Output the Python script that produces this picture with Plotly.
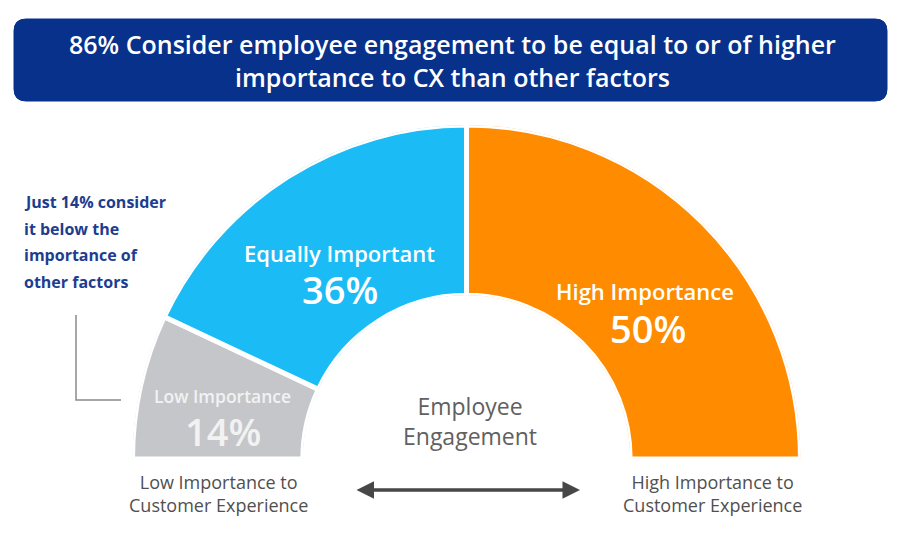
import numpy as np
import plotly.graph_objects as go

# data
segments = ["Low Importance", "Equally Important", "High Importance"]
shares = [14, 36, 50]
colors = ["#c5c6ca", "#1bbcf5", "#ff8c00"]
label_colors = ["#f2f2f2", "white", "white"]

W, H = 904, 534
FONT = "Open Sans"


def px(x):
    return x / W


def py(y):
    return 1 - y / H


# angular positions from the shares (half circle = 100%)
theta_width = [s * 1.8 for s in shares]
theta_mid = list(np.cumsum(theta_width) - np.array(theta_width) / 2)

fig = go.Figure(
    go.Barpolar(
        r=[1] * len(shares),
        theta=theta_mid,
        width=theta_width,
        marker=dict(color=colors, line=dict(color="white", width=5)),
        hoverinfo="skip",
    )
)

fig.update_layout(
    width=W,
    height=H,
    margin=dict(l=0, r=0, t=0, b=0),
    paper_bgcolor="white",
    showlegend=False,
    font=dict(family=FONT),
    polar=dict(
        domain=dict(x=[px(131), px(802)], y=[py(459), py(125)]),
        sector=[0, 180],
        hole=0.49,
        bgcolor="white",
        angularaxis=dict(
            direction="clockwise",
            rotation=180,
            showgrid=False,
            showline=False,
            showticklabels=False,
            ticks="",
        ),
        radialaxis=dict(
            range=[0, 1],
            showgrid=False,
            showline=False,
            showticklabels=False,
            ticks="",
        ),
    ),
)


# rounded title banner
def rounded_rect(x0, y0, x1, y1, rad):
    rx, ry = rad / W, rad / H
    a, b, c, d = px(x0), py(y1), px(x1), py(y0)
    return (
        f"M {a+rx},{b} L {c-rx},{b} Q {c},{b} {c},{b+ry} "
        f"L {c},{d-ry} Q {c},{d} {c-rx},{d} "
        f"L {a+rx},{d} Q {a},{d} {a},{d-ry} "
        f"L {a},{b+ry} Q {a},{b} {a+rx},{b} Z"
    )


fig.add_shape(
    type="path",
    path=rounded_rect(14, 19, 887, 101, 12),
    xref="paper",
    yref="paper",
    fillcolor="#07318a",
    line=dict(color="#07318a", width=1),
)

# bracket next to the side note
fig.add_shape(
    type="path",
    path=f"M {px(76)},{py(315)} L {px(76)},{py(400)} L {px(121)},{py(400)}",
    xref="paper",
    yref="paper",
    line=dict(color="#8a8a8a", width=1.5),
)


def label(x, y, text, size, color, weight="normal", xanchor="center"):
    fig.add_annotation(
        x=px(x), y=py(y), xref="paper", yref="paper",
        xanchor=xanchor, yanchor="middle",
        text=text, showarrow=False,
        font=dict(size=size, color=color, weight=weight, family=FONT),
    )


# title
label(452, 44, "86% Consider employee engagement to be equal to or of higher", 25, "white", 600)
label(452, 77, "importance to CX than other factors", 25, "white", 600)

# side note
for i, line in enumerate(["Just 14% consider", "it below the", "importance of", "other factors"]):
    label(22, 202 + i * 26.5, line, 16, "#1d3d8f", 700, xanchor="left")

# segment labels
seg_name_pos = [(222, 396, 17.5), (339, 253, 22), (645, 291, 22)]
seg_pct_pos = [(223, 431), (340, 289), (648, 328)]
for name, share, c, (nx, ny, ns), (vx, vy) in zip(segments, shares, label_colors, seg_name_pos, seg_pct_pos):
    label(nx, ny, name, ns, c, 600)
    label(vx, vy, f"{share}%", 38, c, 600)

# centre text
label(470, 421, "Employee<br>Engagement", 23, "#606060")

# bottom scale labels
label(218, 493, "Low Importance to<br>Customer Experience", 18, "#505050")
label(712, 493, "High Importance to<br>Customer Experience", 18, "#505050")

# double-headed arrow
fig.add_annotation(
    x=px(580), y=py(490),
    ax=-225, ay=0,
    xref="paper", yref="paper",
    text="",
    showarrow=True,
    arrowhead=2,
    arrowside="end+start",
    arrowsize=1,
    arrowwidth=3.5,
    arrowcolor="#474747",
)

fig.write_html(
    "out.html",
    config={"displayModeBar": False},
    post_script="document.body.style.margin='0';",
)
